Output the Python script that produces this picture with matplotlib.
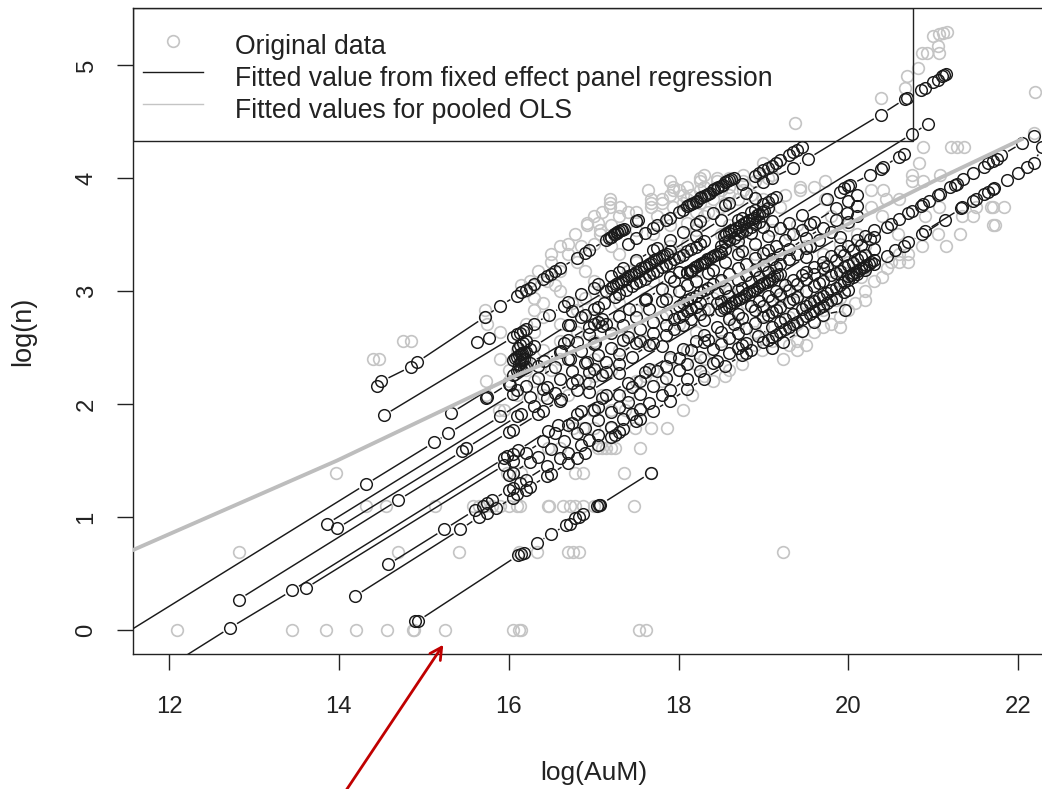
import matplotlib
matplotlib.use("Agg")
import matplotlib.pyplot as plt
from matplotlib.collections import LineCollection
from matplotlib.legend_handler import HandlerLine2D
from matplotlib.lines import Line2D
from matplotlib.patches import Rectangle
from matplotlib.transforms import IdentityTransform
import numpy as np

plt.rcParams['font.family'] = ['Liberation Sans', 'DejaVu Sans']

GRAY_ROWS = [
 (0.0,[12.1,13.45,13.85,14.2,14.57,14.87,14.89,15.25,16.05,16.12,16.15,17.54,17.62]),
 (0.69,[12.82,14.7,15.41,16.12,16.33,16.7,16.76,16.83,19.23]),
 (1.1,[14.32,14.56,15.13,15.58,15.65,15.72,15.8,15.9,16.0,16.1,16.13,16.46,16.48,16.64,16.72,16.78,16.88,17.0,17.05,17.47]),
 (1.39,[13.97,15.98,16.05,16.15,16.78,16.88,17.36,17.67]),
 (1.61,[15.5,16.46,16.6,17.05,17.1,17.15,17.2,17.25,17.55]),
 (1.79,[16.76,16.88,17.0,17.2,17.49,17.67,17.87]),
 (1.95,[15.88,15.95,16.98,17.2,17.37,17.55,18.05]),
 (2.08,[15.73,16.1,16.4,16.7,17.1,17.4,18.16]),
 (2.2,[15.73,16.0,16.3,16.9,17.5,17.8,18.4]),
 (2.25,[17.0,17.6,18.3,18.55]),
 (2.3,[16.0,16.2,16.5,17.2,17.7,18.0,18.6]),
 (2.35,[18.2,18.75]),
 (2.4,[14.4,14.47,15.9,16.2,16.6,17.0,17.9,18.3,19.23]),
 (2.48,[16.1,16.4,17.3,18.1,18.98,19.4]),
 (2.52,[18.9,19.3,19.5]),
 (2.56,[14.76,14.85,16.2,16.6,17.0,17.6,18.5,19.1,19.4]),
 (2.64,[15.9,16.3,16.8,17.4,18.2,18.9,19.6]),
 (2.68,[19.0,19.35,19.7,19.9]),
 (2.71,[15.75,16.2,16.6,17.2,18.0,18.7,19.4,19.8]),
 (2.77,[15.72,16.4,17.0,17.8,18.6,19.3,19.9]),
 (2.83,[15.72,16.3,16.8,17.5,18.3,19.0,19.7,20.0]),
 (2.89,[16.4,16.75,17.3,18.1,18.8,19.5,20.08]),
 (2.92,[19.6,19.85,20.2]),
 (2.94,[16.3,16.9,17.6,18.4,19.2,19.9]),
 (3.0,[16.2,16.6,17.1,17.9,18.6,19.4,20.2]),
 (3.05,[16.15,16.3,16.55]),
 (3.09,[16.25,16.45,17.0,17.7,18.5,19.2,19.9,20.3]),
 (3.12,[20.0,20.15,20.4]),
 (3.18,[16.35,16.6,16.9,17.4,18.2,19.0,19.8]),
 (3.2,[20.2,20.45]),
 (3.26,[16.5,16.8,17.5,18.3,19.1,20.0,20.5,20.6,20.7]),
 (3.33,[16.5,16.7,17.3,18.0,18.9,19.7,20.6,20.7]),
 (3.4,[16.6,16.85,17.2,17.9,18.7,19.5,20.2,20.87,21.15]),
 (3.42,[16.7,17.0,18.1,19.9]),
 (3.5,[16.78,17.08,17.7,18.5,19.3,20.1,20.58,21.05,21.31]),
 (3.54,[17.08,17.5,18.2,19.1]),
 (3.58,[16.92,17.2,17.9,18.6,19.4,20.0,21.7,21.73]),
 (3.6,[16.92,17.05,18.1,18.85]),
 (3.66,[17.0,17.3,17.75,18.3,19.0,19.8,20.4,20.9,21.34,21.47]),
 (3.7,[17.1,17.4,17.5,18.2,18.35]),
 (3.74,[17.19,17.31,17.67,17.94,18.5,19.2,20.27,21.07,21.5,21.7,21.68,21.83]),
 (3.78,[17.19,17.67,17.8,18.05,18.25,18.55]),
 (3.81,[17.19,17.67,17.8,18.1,18.4,18.7,19.0,19.73,20.44,20.6]),
 (3.85,[17.9,18.05,18.15,18.6,18.85,19.25]),
 (3.89,[17.64,17.94,18.0,18.25,18.5,18.76,19.43,20.41,20.27]),
 (3.92,[17.94,18.1,18.3,18.6,19.43,19.6]),
 (3.97,[17.9,18.25,18.45,18.76,18.9,19.73,20.75,20.88]),
 (4.0,[18.25,18.45,18.6,19.05]),
 (4.03,[18.3,18.76,18.95,19.1,20.75,21.08]),
 (4.13,[19.0,19.15,20.83]),
 (4.27,[20.88,21.21,21.28,21.36]),
 (4.4,[22.18]), (4.49,[19.37]), (4.71,[20.38]), (4.76,[22.2]), (4.8,[20.67]),
 (4.9,[20.69]), (4.97,[20.82]), (5.11,[20.87,20.93,21.07]), (5.17,[21.05]),
 (5.26,[21.0]), (5.27,[21.07]), (5.28,[21.12]), (5.29,[21.16]),
]

F01 = [(14.90,.08),(14.93,.08),(16.11,.66),(16.15,.67),(16.18,.68),(16.33,.77),(16.5,.85),(16.68,.93),(16.72,.94),(16.78,.99),(16.83,1.0),(16.88,1.03),(17.04,1.1),(17.06,1.11),(17.08,1.11),(17.67,1.39)]
F02 = [(11.4,-.07),(14.32,1.29),(15.12,1.66),(15.29,1.74),(16.05,2.09),(16.1,2.12),(16.2,2.16),(16.35,2.23),(16.55,2.33),(16.7,2.4),(16.72,2.4),(16.85,2.47),(17.0,2.53),(17.02,2.54),(17.2,2.63),(17.35,2.7),(17.5,2.77),(17.65,2.84),(17.8,2.91),(17.85,2.93),(18.0,3.0),(18.1,3.05),(18.2,3.09),(18.35,3.16),(18.4,3.19),(18.55,3.26),(18.7,3.33),(18.75,3.35),(18.9,3.42),(19.05,3.49),(19.2,3.56),(19.3,3.6),(19.45,3.67),(19.75,3.81),(19.9,3.88),(19.95,3.91),(20.0,3.93),(20.02,3.94),(20.26,4.03),(20.38,4.08),(20.41,4.1),(20.6,4.19),(20.65,4.21)]
F03 = [(15.73,2.05),(15.75,2.06),(16.0,2.18),(16.02,2.17),(16.35,2.34),(16.42,2.38),(16.6,2.46),(16.62,2.47),(16.8,2.55),(16.95,2.62),(17.1,2.69),(17.15,2.71),(17.3,2.78),(17.42,2.84),(17.6,2.92),(17.62,2.93),(17.8,3.02),(17.95,3.09),(18.1,3.16),(18.15,3.18),(18.3,3.25),(18.5,3.34),(18.55,3.37),(18.7,3.44),(18.85,3.51),(19.0,3.57),(19.1,3.62),(20.75,4.39),(20.94,4.48)]
F04 = [(14.53,1.90),(16.05,2.59),(16.1,2.62),(16.13,2.63),(16.17,2.65),(16.2,2.66),(16.3,2.71),(16.48,2.79),(16.65,2.87),(16.7,2.9),(16.85,2.97),(17.0,3.03),(17.05,3.06),(17.2,3.13),(17.3,3.17),(17.35,3.2),(17.5,3.27),(17.7,3.36),(17.75,3.38),(17.9,3.45),(18.05,3.52),(18.2,3.59),(18.25,3.62),(18.4,3.69),(18.55,3.76),(18.6,3.78),(18.8,3.87),(19.0,3.96),(19.1,4.0),(19.35,4.09),(19.52,4.17),(20.38,4.56),(20.67,4.7),(20.69,4.71),(20.85,4.78),(20.9,4.8),(21.0,4.85),(21.05,4.87),(21.1,4.9),(21.13,4.91),(21.15,4.92)]
F05 = [(14.45,2.16),(14.5,2.2),(14.85,2.33),(14.92,2.37),(15.72,2.77),(15.9,2.87),(16.1,2.96),(16.15,2.99),(16.2,3.01),(16.25,3.03),(16.3,3.06),(16.4,3.11),(16.45,3.13),(16.5,3.15),(16.55,3.18),(16.6,3.2),(16.8,3.29),(16.9,3.34),(16.95,3.36),(17.15,3.45),(17.2,3.48),(17.25,3.5),(17.28,3.52),(17.32,3.54),(17.36,3.55),(17.5,3.62),(17.52,3.63)]
F06 = [(17.4,3.42),(17.5,3.47),(17.6,3.51),(17.7,3.56),(17.75,3.58),(17.85,3.63),(17.9,3.65),(18.0,3.7),(18.05,3.72),(18.1,3.75),(18.15,3.77),(18.2,3.79),(18.25,3.82),(18.3,3.84),(18.35,3.86),(18.4,3.89),(18.45,3.91),(18.5,3.93),(18.55,3.96),(18.6,3.98),(18.65,4.0)]
F07 = [(18.75,3.95),(18.9,4.02),(18.95,4.04),(19.0,4.07),(19.05,4.09),(19.1,4.11),(19.15,4.13),(19.2,4.16),(19.3,4.2),(19.35,4.23),(19.4,4.25),(19.45,4.27)]
F08 = [(16.05,2.39),(16.08,2.41),(16.1,2.42),(16.12,2.43),(16.14,2.44),(16.16,2.45),(16.18,2.46),(16.2,2.46),(16.25,2.49),(16.3,2.51),(16.7,2.7),(16.72,2.7),(16.85,2.77),(16.9,2.79),(17.0,2.84),(17.05,2.86),(17.12,2.89),(17.25,2.95),(17.3,2.97),(17.38,3.01),(17.45,3.04),(17.5,3.07),(17.55,3.09),(17.6,3.11),(17.65,3.14),(17.7,3.16),(17.75,3.18),(17.8,3.21),(17.85,3.23),(17.9,3.25),(17.95,3.28),(18.0,3.3),(18.05,3.32),(18.1,3.35),(18.15,3.37),(18.2,3.39),(18.25,3.42),(18.3,3.44),(18.7,3.63),(18.75,3.65),(18.85,3.7),(18.9,3.72),(19.0,3.77),(19.05,3.79),(19.1,3.81),(19.15,3.83)]
F09 = [(13.86,.94),(15.9,1.89),(16.25,2.06),(16.4,2.13),(16.45,2.15),(16.6,2.22),(16.75,2.29),(16.9,2.36),(16.92,2.37),(17.05,2.43),(17.2,2.5),(17.35,2.57),(17.4,2.59),(17.55,2.66),(17.7,2.73),(17.85,2.8),(18.0,2.87),(18.05,2.89),(18.1,2.92),(18.15,2.94),(18.2,2.96),(18.25,2.99),(18.3,3.01),(18.35,3.03),(18.4,3.06),(18.5,3.1),(18.6,3.15),(18.7,3.2),(18.8,3.24),(18.9,3.29),(19.0,3.34),(19.05,3.36),(19.15,3.4),(19.25,3.45),(19.35,3.5),(19.45,3.54),(19.55,3.59),(19.6,3.61),(19.85,3.73),(20.0,3.8),(20.1,3.85)]
F10 = [(13.98,.90),(15.45,1.58),(15.5,1.61),(16.1,1.89),(16.15,1.91),(16.3,1.98),(16.45,2.05),(16.55,2.1),(16.75,2.19),(16.8,2.21),(16.95,2.28),(17.0,2.31),(17.15,2.37),(17.3,2.44),(17.5,2.54),(17.55,2.56),(17.7,2.63),(17.85,2.7),(17.95,2.75),(18.0,2.77),(18.05,2.79),(18.1,2.82),(18.15,2.84),(18.2,2.86),(18.25,2.89),(18.45,2.98),(18.55,3.03),(18.7,3.1),(18.8,3.14),(18.9,3.19),(19.0,3.23),(19.1,3.28),(19.2,3.33),(19.3,3.37),(19.5,3.47),(19.7,3.56),(19.85,3.63),(19.98,3.69),(20.1,3.75)]
F11 = [(12.82,.27),(14.7,1.15),(16.0,1.75),(16.05,1.77),(16.35,1.91),(16.4,1.94),(16.6,2.03),(16.62,2.04),(16.8,2.12),(16.95,2.19),(17.1,2.26),(17.15,2.28),(17.3,2.35),(17.45,2.42),(17.65,2.52),(17.7,2.54),(17.85,2.61),(17.95,2.66),(18.05,2.70),(18.15,2.75),(18.25,2.8),(18.35,2.84),(18.45,2.89),(18.5,2.91),(18.6,2.96),(18.7,3.01),(18.75,3.03),(18.85,3.08),(18.95,3.12),(19.05,3.17),(19.15,3.21),(19.2,3.24),(19.3,3.28),(19.4,3.33),(19.5,3.38),(19.55,3.4),(19.65,3.45),(19.8,3.52),(20.0,3.61),(20.1,3.66)]
F15 = [(12.0,-.32),(12.72,.02),(13.45,.35),(15.95,1.52),(15.98,1.54),(16.05,1.56),(16.11,1.59),(16.46,1.76),(16.58,1.81),(16.8,1.91),(16.85,1.94),(17.1,2.05),(17.15,2.08),(17.4,2.19),(17.6,2.28),(17.65,2.31),(17.9,2.42),(18.05,2.49),(18.2,2.56),(18.3,2.61),(18.45,2.68),(18.6,2.75),(18.7,2.8),(18.85,2.87),(18.95,2.91),(19.05,2.96),(19.15,3.0),(19.25,3.05),(19.35,3.1),(19.45,3.14),(19.5,3.17),(19.6,3.21),(19.7,3.26),(19.8,3.31),(19.9,3.35),(20.0,3.4),(20.1,3.45),(20.2,3.49),(20.3,3.54)]
F16 = [(13.61,.37),(15.95,1.46),(16.05,1.5),(16.2,1.57),(16.4,1.67),(16.55,1.74),(16.7,1.81),(16.75,1.83),(17.0,1.95),(17.05,1.97),(17.3,2.08),(17.45,2.15),(17.55,2.2),(17.75,2.29),(17.85,2.34),(18.0,2.41),(18.15,2.48),(18.3,2.55),(18.35,2.57),(18.5,2.64),(18.65,2.71),(18.75,2.76),(18.9,2.83),(19.0,2.87),(19.1,2.92),(19.2,2.97),(19.3,3.01),(19.4,3.06),(19.5,3.11),(19.6,3.15),(19.7,3.2),(19.75,3.22),(19.85,3.27),(19.95,3.32),(20.05,3.36),(20.15,3.41),(20.25,3.46),(20.3,3.48)]
F17 = [(20.45,3.57),(20.5,3.59),(20.6,3.64),(20.7,3.69),(20.75,3.71),(20.85,3.75),(20.88,3.77),(20.95,3.8),(21.05,3.85),(21.08,3.86),(21.2,3.92),(21.25,3.94),(21.28,3.95),(21.35,3.99),(21.47,4.04),(21.6,4.10),(21.65,4.13),(21.7,4.15),(21.75,4.17),(21.8,4.2),(22.05,4.31),(22.18,4.37)]
F18 = [(16.0,1.37),(16.05,1.39),(16.25,1.49),(16.35,1.53),(16.5,1.6),(16.65,1.67),(16.8,1.74),(16.9,1.79),(17.05,1.86),(17.2,1.93),(17.3,1.97),(17.4,2.02),(17.55,2.09),(17.7,2.16),(17.85,2.23),(18.0,2.3),(18.1,2.35),(18.25,2.42),(18.4,2.49),(18.5,2.53),(18.6,2.58),(18.7,2.63),(18.8,2.67),(18.9,2.72),(19.0,2.77),(19.05,2.79),(19.1,2.81),(19.15,2.83),(19.2,2.86),(19.3,2.9),(19.35,2.93),(19.4,2.95),(19.5,3.0),(19.6,3.04),(19.65,3.07),(19.7,3.09),(19.8,3.14),(19.85,3.16),(19.9,3.18),(19.95,3.21),(20.0,3.23),(20.05,3.25),(20.1,3.28),(20.15,3.3),(20.2,3.32),(20.3,3.37)]
F19 = [(14.58,.58),(15.24,.89),(15.6,1.06),(15.7,1.1),(15.75,1.12),(15.8,1.15),(16.0,1.24),(16.05,1.26),(16.13,1.3),(16.2,1.33),(16.45,1.45),(16.6,1.52),(16.7,1.57),(16.85,1.64),(16.95,1.68),(17.05,1.73),(17.2,1.8),(17.35,1.87),(17.45,1.91),(17.55,1.96),(17.65,2.01),(17.8,2.08),(17.9,2.12),(18.1,2.22),(18.25,2.29),(18.4,2.36),(18.45,2.38),(18.6,2.45),(18.7,2.5),(18.75,2.52),(18.8,2.54),(18.93,2.6),(19.1,2.68),(19.2,2.73),(19.25,2.75),(19.35,2.8),(19.45,2.84),(19.5,2.87),(19.55,2.89),(19.6,2.91),(19.65,2.94),(19.7,2.96),(19.75,2.98),(19.8,3.01),(19.85,3.03),(19.9,3.05),(19.95,3.08),(20.0,3.1),(20.05,3.12),(20.1,3.15),(20.2,3.19),(20.3,3.24),(20.45,3.31),(20.55,3.36),(20.65,3.4),(20.7,3.43),(20.87,3.5),(21.14,3.63)]
F20 = [(14.19,.30),(15.43,.89),(15.65,1.0),(15.75,1.04),(15.85,1.08),(16.05,1.17),(16.1,1.2),(16.2,1.24),(16.25,1.27),(16.45,1.36),(16.5,1.38),(16.7,1.48),(16.8,1.52),(16.9,1.57),(17.05,1.64),(17.2,1.71),(17.25,1.73),(17.3,1.75),(17.35,1.78),(17.5,1.85),(17.55,1.87),(17.7,1.94),(17.9,2.03),(18.1,2.13),(18.3,2.22),(18.55,2.34),(18.75,2.43),(18.8,2.45),(18.85,2.48),(19.0,2.55),(19.05,2.57),(19.1,2.59),(19.15,2.61),(19.2,2.64),(19.25,2.66),(19.3,2.68),(19.35,2.71),(19.4,2.73),(19.45,2.75),(19.5,2.78),(19.55,2.8),(19.6,2.82),(19.65,2.85),(19.7,2.87),(19.75,2.89),(19.8,2.92),(19.85,2.94),(19.95,2.99),(20.0,3.01)]
F21 = [(19.1,2.5),(19.23,2.55),(19.45,2.65),(19.6,2.73),(19.7,2.79),(19.96,2.83)]
F22 = [(15.32,1.92),(16.05,2.26),(16.1,2.29),(16.12,2.3),(16.15,2.31),(16.18,2.32),(16.2,2.33),(16.25,2.36),(16.65,2.54),(16.7,2.57),(16.95,2.68),(17.0,2.71),(17.05,2.73),(17.1,2.75),(17.9,3.12),(18.0,3.17),(18.5,3.4),(18.55,3.43),(18.6,3.45),(18.65,3.47),(18.7,3.5),(18.75,3.52),(18.8,3.54),(18.85,3.57),(18.9,3.59),(18.95,3.61)]
F23 = [(15.63,2.55),(15.77,2.58)]
F24 = [(20.9,3.53),(21.33,3.73),(21.34,3.74),(21.47,3.8),(21.5,3.81),(21.6,3.86),(21.65,3.88),(21.7,3.9),(21.72,3.91),(21.87,3.98),(22.0,4.04),(22.1,4.1),(22.18,4.13),(22.28,4.27)]
F25 = [(16.75,2.82),(17.15,3.0),(17.2,3.03),(17.23,3.04),(17.26,3.06),(17.29,3.07),(17.32,3.08),(17.35,3.1),(17.38,3.11),(17.41,3.13),(17.44,3.14),(17.47,3.15),(17.5,3.17),(17.53,3.18),(17.56,3.2),(17.59,3.21),(17.62,3.22),(17.65,3.24),(17.68,3.25),(17.71,3.27),(17.74,3.28),(17.77,3.29),(17.8,3.31),(17.83,3.32),(17.86,3.33),(17.9,3.35),(18.2,3.49),(18.5,3.63),(18.9,3.82)]
F26 = [(18.53,3.49),(18.56,3.5),(18.59,3.51),(18.62,3.53),(18.65,3.54),(18.68,3.56),(18.71,3.57),(18.74,3.58),(18.77,3.6),(18.8,3.61),(18.83,3.63),(18.86,3.64),(18.89,3.65),(18.92,3.67),(18.95,3.68),(18.98,3.7),(19.01,3.71),(19.05,3.73)]
F27 = [(18.1,3.17),(18.13,3.18),(18.16,3.19),(18.19,3.21),(18.22,3.22),(18.25,3.24),(18.28,3.25),(18.31,3.26),(18.34,3.28),(18.37,3.29),(18.4,3.31),(18.43,3.32),(18.46,3.33),(18.49,3.35)]
F28 = [(16.95,2.11),(17.3,2.27),(17.8,2.51),(18.3,2.74),(18.5,2.83),(18.53,2.85),(18.56,2.86),(18.59,2.87),(18.62,2.89),(18.65,2.9),(18.68,2.92),(18.71,2.93),(18.74,2.94),(18.77,2.96),(18.8,2.97),(18.83,2.99),(18.86,3.0),(18.89,3.01),(18.92,3.03),(18.95,3.04),(18.98,3.06),(19.01,3.07),(19.04,3.08),(19.07,3.1),(19.1,3.11),(19.13,3.13),(19.16,3.14),(19.19,3.15),(19.5,3.3),(19.9,3.48)]
F29 = [(20.0,3.13),(20.03,3.14),(20.06,3.16),(20.09,3.17),(20.12,3.19),(20.15,3.2),(20.18,3.21),(20.21,3.23),(20.24,3.24),(20.27,3.26),(20.3,3.27)]
F30 = [(17.18,3.47),(17.21,3.48),(17.24,3.5),(17.27,3.51),(17.3,3.53),(17.33,3.54)]
F31 = [(18.12,3.76),(18.17,3.78),(18.22,3.8),(18.27,3.83),(18.32,3.85),(18.37,3.87),(18.42,3.9),(18.47,3.92),(18.52,3.94),(18.57,3.97),(18.62,3.99)]
F32 = [(16.12,2.35),(16.14,2.37),(16.16,2.39),(16.18,2.4)]
F33 = [(16.11,2.5),(16.13,2.52),(16.17,2.54),(16.2,2.56)]
FUNDS = [F01,F02,F03,F04,F05,F06,F07,F08,F09,F10,F11,F15,F16,F17,F18,F19,F20,F21,F22,F23,F24,F25,F26,F27,F28,F29,F30,F31,F32,F33]

OLS_X = [11.4,12.72,13.98,16.05,17.43,19.2,19.7,21.08,22.06]
OLS_Y = [0.65,1.085,1.5,2.24,2.68,3.32,3.48,4.0,4.35]

XTICKS = [12,14,16,18,20,22]
YTICKS = [0,1,2,3,4,5]
LEGEND = ["Original data","Fitted value from fixed effect panel regression","Fitted values for pooled OLS"]

W,H = 1042,789
fig = plt.figure(figsize=(W/100,H/100),dpi=100)
ax = fig.add_axes([133/W,1-654/H,(W-133)/W,(654-8)/H])
ax.set_xlim(11.576,22.28)
ax.set_ylim(-0.212,5.504)

GRAY='#c4c4c4'; BLK='#1a1a1a'
for y,xs in GRAY_ROWS:
    ax.plot(xs,[y]*len(xs),'o',mfc='none',mec=GRAY,ms=8.4,mew=1.2,zorder=2)

fig.canvas.draw()
gap = 8.0
segs=[]
for f in FUNDS:
    p = ax.transData.transform(np.array(f))
    for a,b in zip(p[:-1],p[1:]):
        d=b-a; L=np.hypot(*d)
        if L>2*gap:
            u=d/L
            segs.append([a+u*gap,b-u*gap])
lc = LineCollection(segs,colors=BLK,linewidths=1.05,transform=IdentityTransform(),zorder=3)
ax.add_collection(lc,autolim=False)
lc.set_clip_box(ax.bbox)
for f in FUNDS:
    a=np.array(f)
    ax.plot(a[:,0],a[:,1],'o',mfc='none',mec=BLK,ms=8.4,mew=1.05,zorder=3)
ax.plot(OLS_X,OLS_Y,color='#bdbdbd',lw=2.8,zorder=4,solid_capstyle='butt')

for s in ['top','left','bottom']:
    ax.spines[s].set_linewidth(1.0); ax.spines[s].set_color('#222222')
ax.spines['right'].set_visible(False)
ax.set_xticks(XTICKS); ax.set_yticks(YTICKS)
ax.tick_params(axis='both',length=11.5,width=1.0,color='#222222',labelsize=17.2,labelcolor='#222222')
ax.tick_params(axis='x',pad=19)
ax.tick_params(axis='y',pad=14)
for t in ax.get_yticklabels():
    t.set_rotation(90); t.set_va('center')
fig.text(594/W,1-773/H,"log(AuM)",ha='center',va='center',fontsize=19,color='#222222')
fig.text(23/W,1-331/H,"log(n)",ha='center',va='center',rotation=90,fontsize=19.5,color='#222222')

# legend box
inv = ax.transAxes.inverted()
(x0,y0),(x1,y1) = inv.transform([(133,H-141),(913,H-8)])
ax.add_patch(Rectangle((x0,y0),x1-x0,y1-y0,transform=ax.transAxes,fc='none',ec='#222222',lw=1.0,zorder=5))
h0=Line2D([],[],ls='none',marker='o',mfc='none',mec=GRAY,ms=8.4,mew=1.2)
h1=Line2D([],[],color=BLK,lw=1.0)
h2=Line2D([],[],color='#c4c4c4',lw=1.0)
up=HandlerLine2D(ypad=-0.19)
leg=ax.legend([h0,h1,h2],LEGEND,loc='upper left',bbox_to_anchor=(143,H-30),bbox_transform=IdentityTransform(),frameon=False,
    fontsize=19.2,handlelength=2.25,handletextpad=1.2,labelspacing=0.215,borderpad=0,borderaxespad=0,labelcolor='#222222',
    handler_map={h0:up,h1:up,h2:up})
leg.set_zorder(6)
for t in leg.get_texts():
    t.set_y(-4.3)

ax.annotate("",xy=(15.23,-0.13),xytext=(345/W,1-792/H),xycoords='data',textcoords='figure fraction',
    arrowprops=dict(arrowstyle='->,head_length=0.85,head_width=0.45',color='#c00000',lw=2.0,shrinkA=0,shrinkB=0),annotation_clip=False,zorder=6)

fig.savefig('out.png',dpi=100)
